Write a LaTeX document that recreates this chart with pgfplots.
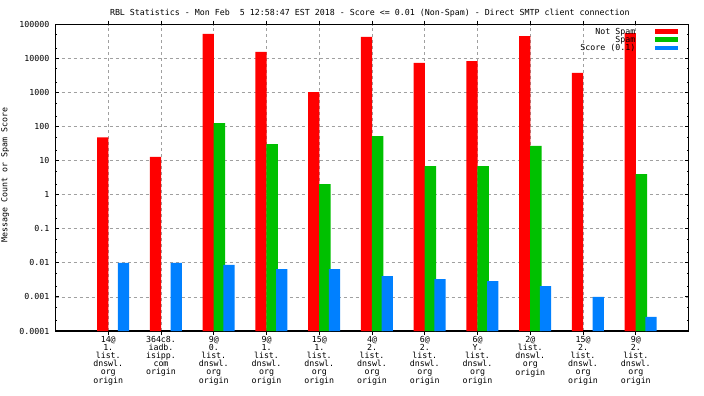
\documentclass[border=0pt]{standalone}
\usepackage{pgfplots}
\pgfplotsset{compat=1.18}
\usepackage{fontspec}
\setmainfont{DejaVu Sans Mono}
\definecolor{cRed}{HTML}{FF0000}
\definecolor{cGreen}{HTML}{00C000}
\definecolor{cBlue}{HTML}{0080FF}
\definecolor{cGrid}{HTML}{A0A0A0}
\newcommand\F{\fontsize{8.3bp}{7.9bp}\selectfont}
\begin{document}
\begin{tikzpicture}
\useasboundingbox (0,0) rectangle (704bp,396bp);
\begin{axis}[
  at={(55.5bp,65bp)}, anchor=south west,
  scale only axis, width=633bp, height=306.3bp,
  ymode=log, log origin=infty,
  xmin=-1, xmax=11, ymin=1e-4, ymax=1e5,
  ybar,
  xtick={0,...,10},
  xticklabels={{14@\\1.\\list.\\dnswl.\\org\\origin},
               {364c8.\\iadb.\\isipp.\\com\\origin},
               {9@\\0.\\list.\\dnswl.\\org\\origin},
               {9@\\1.\\list.\\dnswl.\\org\\origin},
               {15@\\1.\\list.\\dnswl.\\org\\origin},
               {4@\\2.\\list.\\dnswl.\\org\\origin},
               {6@\\2.\\list.\\dnswl.\\org\\origin},
               {6@\\Y.\\list.\\dnswl.\\org\\origin},
               {2@\\list.\\dnswl.\\org\\origin},
               {15@\\2.\\list.\\dnswl.\\org\\origin},
               {9@\\2.\\list.\\dnswl.\\org\\origin}},
  ytick={1e-4,1e-3,1e-2,1e-1,1,10,100,1000,10000,100000},
  yticklabels={0.0001,0.001,0.01,0.1,1,10,100,1000,10000,100000},
  minor ytick={2e-4,5e-4,2e-3,5e-3,2e-2,5e-2,2e-1,5e-1,2,5,20,50,200,500,2000,5000,20000,50000},
  /pgf/number format/assume math mode=true,
  xticklabel style={font=\F, align=center, inner sep=0pt, yshift=-1.2bp},
  yticklabel style={font=\F, inner sep=0pt, xshift=-6bp},
  major tick length=4bp, minor tick length=2bp,
  tick style={black, line width=1bp},
  axis line style={black, line width=1.3bp},
  grid=major,
  major grid style={cGrid, dash pattern=on 3bp off 3bp, line width=0.9bp},
  title={RBL Statistics - Mon Feb\ \ 5 12:58:47 EST 2018 - Score <= 0.01 (Non-Spam) - Direct SMTP client connection},
  title style={font=\F, at={(axis description cs:0.5,1)}, anchor=base, inner sep=0pt, yshift=3bp, xshift=-2.15bp},
  ylabel={Message Count or Spam Score},
  ylabel style={font=\F, at={(axis description cs:-0.0793,0.509)}, anchor=center, inner sep=0pt},
  legend plot pos=right,
  legend cell align=right,
  legend image code/.code={\fill[#1] (0bp,-1.3bp) rectangle (23bp,3.4bp);},
  legend style={font=\F, at={(1,1)}, anchor=north east, xshift=-7.3bp, yshift=-1.5bp,
    draw=none, fill=none, column sep=19.7bp, row sep=0pt,
    nodes={inner sep=0pt, text height=6bp, text depth=2.3bp}},
]
\addplot[fill=cRed, draw=none, bar width=11.3bp, bar shift=-5.5bp] coordinates {
 (0,49) (1,13) (2,53300) (3,15800) (4,1050) (5,43600) (6,7500) (7,8570) (8,46500) (9,3810) (10,57000)};
\addlegendentry{Not Spam}
\addplot[fill=cGreen, draw=none, bar width=11.3bp, bar shift=5.6bp] coordinates {
 (2,129) (3,31) (4,2.08) (5,53.6) (6,7.05) (7,7.05) (8,27.3) (10,4.1)};
\addlegendentry{Spam}
\addplot[fill=cBlue, draw=none, bar width=11.3bp, bar shift=15.3bp] coordinates {
 (0,0.01) (1,0.01) (2,0.0087) (3,0.0066) (4,0.0066) (5,0.0041) (6,0.00337) (7,0.00294) (8,0.0021) (9,0.001) (10,0.000258)};
\addlegendentry{Score (0.1)}
\end{axis}
\end{tikzpicture}
\end{document}
